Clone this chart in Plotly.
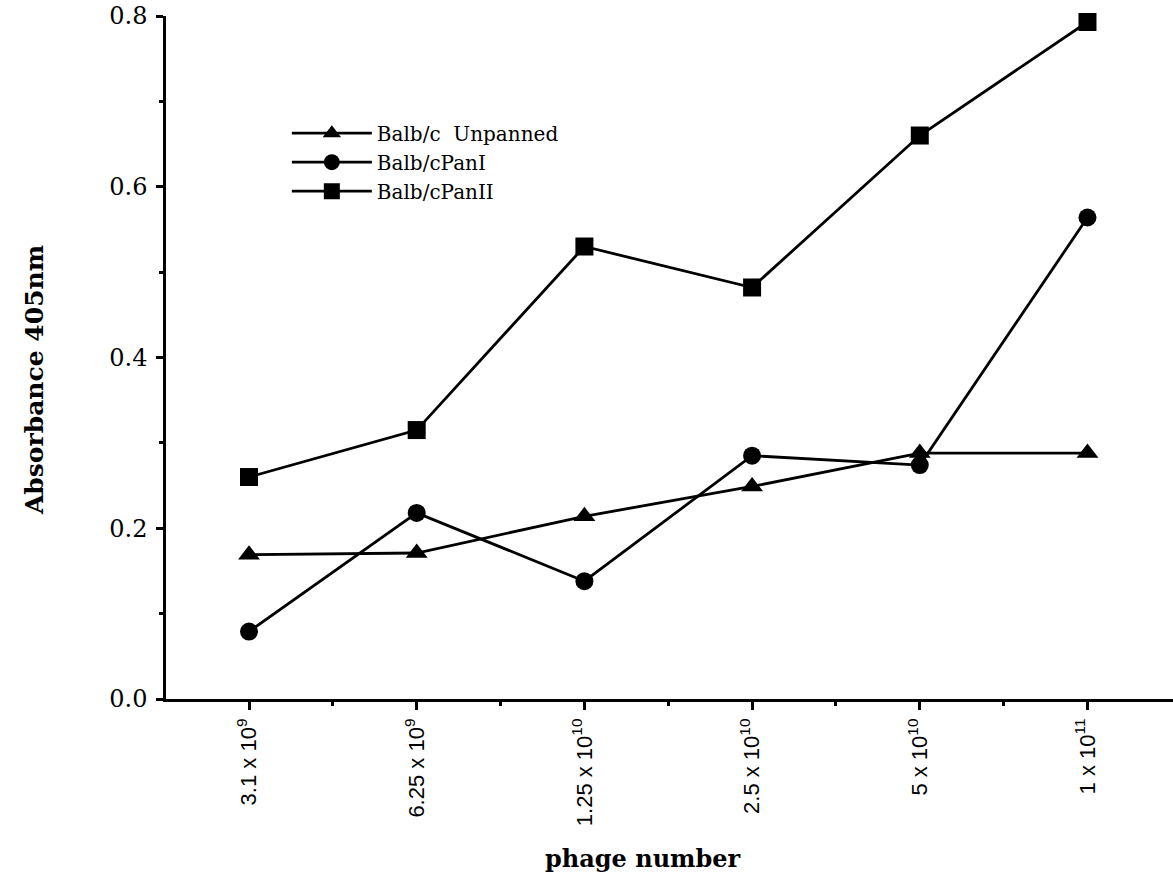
import plotly.graph_objects as go

# ---- data ----
phage_labels = [
    "3.1 x 10<sup>9</sup>",
    "6.25 x 10<sup>9</sup>",
    "1.25 x 10<sup>10</sup>",
    "2.5 x 10<sup>10</sup>",
    "5 x 10<sup>10</sup>",
    "1 x 10<sup>11</sup>",
]
unpanned = [0.169, 0.171, 0.214, 0.249, 0.288, 0.288]
pan1 = [0.079, 0.218, 0.138, 0.285, 0.274, 0.564]
pan2 = [0.260, 0.315, 0.530, 0.482, 0.660, 0.793]
y_ticks = [0.0, 0.2, 0.4, 0.6, 0.8]
y_ticklabels = ["0.0", "0.2", "0.4", "0.6", "0.8"]

x_idx = list(range(len(phage_labels)))

series = [
    ("Balb/c  Unpanned", unpanned, "triangle-up", 19),
    ("Balb/cPanI", pan1, "circle", 18),
    ("Balb/cPanII", pan2, "square", 18),
]

fig = go.Figure()
for name, vals, sym, size in series:
    fig.add_trace(go.Scatter(
        x=x_idx, y=vals, name=name, mode="lines+markers",
        line=dict(color="black", width=2.8),
        marker=dict(symbol=sym, size=size, color="black"),
        cliponaxis=False,
    ))

serif = "DejaVu Serif"
fig.update_layout(
    width=1173, height=879,
    margin=dict(l=166, r=0, t=16, b=180),
    plot_bgcolor="white", paper_bgcolor="white",
    font=dict(family=serif, color="black"),
    showlegend=True,
    legend=dict(
        x=0.12, y=0.857, xanchor="left", yanchor="top",
        font=dict(family=serif, size=20, color="black"),
        bgcolor="rgba(0,0,0,0)", itemwidth=80, tracegroupgap=0,
    ),
    xaxis=dict(
        range=[-0.495, 5.51],
        tickmode="array", tickvals=x_idx, ticktext=phage_labels,
        tickangle=-90,
        tickfont=dict(family="Liberation Sans", size=22, color="black"),
        ticks="outside", ticklen=8, tickwidth=2.5, tickcolor="black",
        minor=dict(tickmode="array", tickvals=[0.5, 1.5, 2.5, 3.5, 4.5],
                   ticks="outside", ticklen=4, tickwidth=2.5, tickcolor="black"),
        showline=True, linecolor="black", linewidth=2.5,
        showgrid=False, zeroline=False,
    ),
    yaxis=dict(
        range=[0, 0.8],
        tickmode="array", tickvals=y_ticks, ticktext=y_ticklabels,
        tickfont=dict(family=serif, size=24, color="black"),
        ticks="outside", ticklen=7, tickwidth=2.5, tickcolor="black",
        ticklabelstandoff=4,
        minor=dict(tickmode="array", tickvals=[0.1, 0.3, 0.5, 0.7],
                   ticks="outside", ticklen=4, tickwidth=2.5, tickcolor="black"),
        showline=True, linecolor="black", linewidth=2.5,
        showgrid=False, zeroline=False,
    ),
    annotations=[
        dict(text="<b>Absorbance 405nm</b>", xref="paper", yref="paper",
             x=-0.131, y=0.467, xanchor="center", yanchor="middle",
             textangle=-90, showarrow=False,
             font=dict(family=serif, size=25, color="black")),
        dict(text="<b>phage number</b>", xref="paper", yref="paper",
             x=0.4737, y=-0.2328, xanchor="center", yanchor="middle",
             showarrow=False,
             font=dict(family=serif, size=24, color="black")),
    ],
)

fig.write_html("out.html")
